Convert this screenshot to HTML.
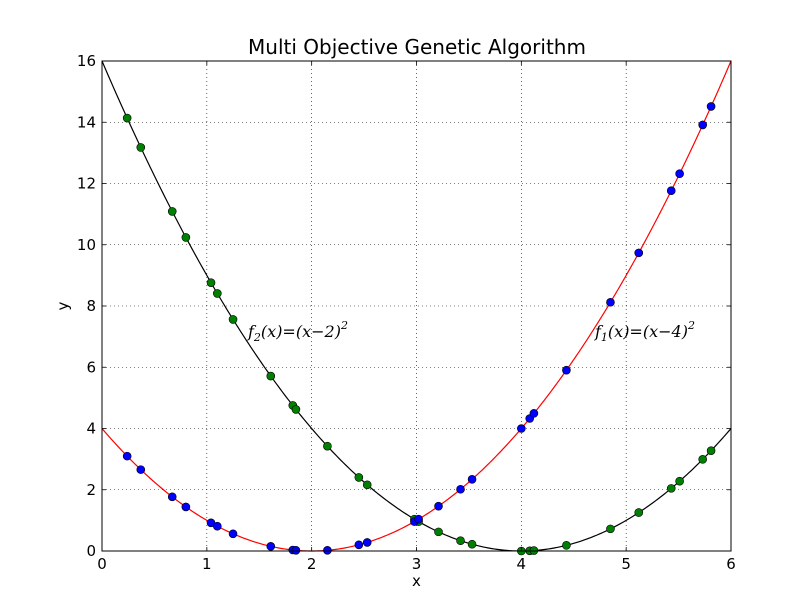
<!DOCTYPE html>
<html><head><meta charset="utf-8"><style>body{margin:0;background:#fff}svg{display:block}</style></head>
<body>
<svg id="s" width="812" height="612" xmlns="http://www.w3.org/2000/svg" font-family="DejaVu Sans, Liberation Sans, sans-serif">
<rect width="812" height="612" fill="#fff"/>
<g id="grid" stroke="#000" stroke-width="0.6" stroke-dasharray="1,3"></g>
<g id="curves" fill="none" stroke-width="1.2"></g>
<g id="pts" stroke="#000" stroke-width="0.6"></g>
<rect x="102" y="61" width="629" height="490" fill="none" stroke="#000" stroke-width="1"/>
<g id="ticks" stroke="#000" stroke-width="0.8"></g>
<g id="labels" font-size="15" fill="#000"></g>
<text x="417" y="54" font-size="20" text-anchor="middle">Multi Objective Genetic Algorithm</text>
<text x="416.5" y="586" font-size="15" text-anchor="middle">x</text>
<text x="68" y="306" font-size="15" text-anchor="middle" transform="rotate(-90 68 306)">y</text>
<text x="248" y="337" font-size="16" font-family="DejaVu Serif, Liberation Serif, serif" font-style="italic">f<tspan font-size="11" dy="4">2</tspan><tspan dy="-4">(x)=(x−2)</tspan><tspan font-size="11" dy="-8">2</tspan></text>
<text x="595" y="337" font-size="16" font-family="DejaVu Serif, Liberation Serif, serif" font-style="italic">f<tspan font-size="11" dy="4">1</tspan><tspan dy="-4">(x)=(x−4)</tspan><tspan font-size="11" dy="-8">2</tspan></text>
</svg>
<script>
const X=x=>102+x*629/6, Y=y=>551-y*490/16, NS="http://www.w3.org/2000/svg";
function el(p,t,a,txt){const e=document.createElementNS(NS,t);for(const k in a)e.setAttribute(k,a[k]);if(txt!=null)e.textContent=txt;document.getElementById(p).appendChild(e);}
for(let i=1;i<6;i++)el("grid","line",{x1:X(i),x2:X(i),y1:61,y2:551});
for(let j=2;j<16;j+=2)el("grid","line",{x1:102,x2:731,y1:Y(j),y2:Y(j)});
for(let i=0;i<=6;i++){el("ticks","line",{x1:X(i),x2:X(i),y1:551,y2:547});el("ticks","line",{x1:X(i),x2:X(i),y1:61,y2:65});el("labels","text",{x:X(i),y:569,"text-anchor":"middle"},i);}
for(let j=0;j<=16;j+=2){el("ticks","line",{x1:102,x2:106,y1:Y(j),y2:Y(j)});el("ticks","line",{x1:731,x2:727,y1:Y(j),y2:Y(j)});el("labels","text",{x:96,y:Y(j)+5,"text-anchor":"end"},j);}
let a="",b="";for(let i=0;i<=300;i++){const x=i*6/300;a+=(i?"L":"M")+X(x).toFixed(2)+","+Y((x-2)**2).toFixed(2);b+=(i?"L":"M")+X(x).toFixed(2)+","+Y((x-4)**2).toFixed(2);}
el("curves","path",{d:a,stroke:"#f00"});el("curves","path",{d:b,stroke:"#000"});
const xs=[0.24,0.37,0.67,0.8,1.04,1.1,1.25,1.61,1.82,1.85,2.15,2.45,2.53,2.98,3.02,3.21,3.42,3.53,4.0,4.08,4.12,4.43,4.85,5.12,5.43,5.51,5.73,5.81];
xs.forEach(x=>el("pts","circle",{cx:X(x),cy:Y((x-4)**2),r:4,fill:"#008000"}));
xs.forEach(x=>el("pts","circle",{cx:X(x),cy:Y((x-2)**2),r:4,fill:"#0000ff"}));
</script>
</body></html>
